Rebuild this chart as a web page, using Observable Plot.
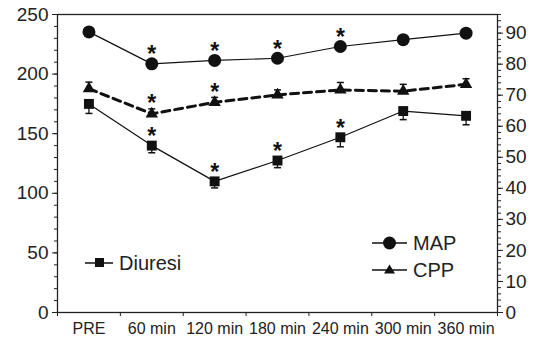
<!DOCTYPE html>
<html>
<head>
<meta charset="utf-8">
<script src="https://cdn.jsdelivr.net/npm/d3@7"></script>
<script src="https://cdn.jsdelivr.net/npm/@observablehq/plot@0.6"></script>
<style>
  body { margin: 0; background: white; }
  #wrap { position: relative; width: 535px; height: 339px; font-family: "Liberation Sans", Arial, sans-serif; color: #222; }
  .leg { position: absolute; display: flex; align-items: center; font-size: 20px; line-height: 1; }
  .leg svg { margin-right: 6px; }
</style>
</head>
<body>
<div id="wrap"></div>
<script>
// ---- data ----
const categories = ["PRE", "60 min", "120 min", "180 min", "240 min", "300 min", "360 min"];
const diuresi    = [175, 140, 110, 127.5, 147, 169, 165];
const diuresiErr = [8, 6, 5.5, 6, 8, 7.2, 7.5];
const map        = [90.4, 80.1, 81.2, 81.9, 85.7, 87.9, 90.0];
const cpp        = [72.1, 64.0, 67.7, 70.1, 71.7, 71.3, 73.5];
const cppErr     = [2.1, 1.6, 1.6, 1.6, 2.4, 2.2, 1.8];
const mapSig     = [false, true, true, true, true, false, false];
const cppSig     = [false, true, true, false, false, false, false];
const diuSig     = [false, true, true, true, true, false, false];
const leftTicks  = [0, 50, 100, 150, 200, 250];
const rightTicks = [0, 10, 20, 30, 40, 50, 60, 70, 80, 90];
const leftMax = 250, rightMax = 96;
const k = leftMax / rightMax; // right-axis units -> left-axis units

const rows = categories.map((c, i) => ({
  i, cat: c,
  diu: diuresi[i], diuLo: diuresi[i] - diuresiErr[i],
  map: map[i] * k,
  cpp: cpp[i] * k, cppHi: (cpp[i] + cppErr[i]) * k,
  mapSig: mapSig[i], cppSig: cppSig[i], diuSig: diuSig[i]
}));

const capSymbol = {
  draw(context, size) {
    const w = Math.sqrt(size / Math.PI);
    context.moveTo(-w, 0);
    context.lineTo(w, 0);
  }
};

const ink = "#111";
const bounds = d3.range(-0.5, categories.length, 1);

const chart = Plot.plot({
  width: 535,
  height: 339,
  marginLeft: 57,
  marginRight: 38,
  marginTop: 14,
  marginBottom: 27,
  style: { fontFamily: "Liberation Sans, Arial, sans-serif", color: "#222", background: "white" },
  x: { type: "linear", domain: [-0.5, categories.length - 0.5], label: null },
  y: { domain: [0, leftMax], label: null },
  marks: [
    Plot.frame({ stroke: "#222", strokeWidth: 1.3 }),
    // left axis
    Plot.axisY({ ticks: leftTicks, tickSize: 5, tickPadding: 4, fontSize: 19, stroke: "#222", label: null }),
    Plot.axisY({ ticks: d3.range(0, leftMax + 1, 10), tickSize: 3, tickFormat: () => "", stroke: "#222", label: null }),
    // right axis
    Plot.axisY({ anchor: "right", ticks: rightTicks.map(v => v * k), tickFormat: d => Math.round(d / k), tickSize: 5, tickPadding: 3, fontSize: 19, stroke: "#222", label: null }),
    Plot.axisY({ anchor: "right", ticks: d3.range(0, rightMax + 1, 2).map(v => v * k), tickSize: 3, tickFormat: () => "", stroke: "#222", label: null }),
    // x axis
    Plot.axisX({ ticks: bounds, tickSize: 4, tickFormat: () => "", stroke: "#222", label: null }),
    Plot.axisX({ ticks: categories.map((c, i) => i), tickSize: 0, tickPadding: 10, tickFormat: i => categories[i], fontSize: 16, label: null }),
    // error bars
    Plot.ruleX(rows, { x: "i", y1: "diuLo", y2: "diu", stroke: ink, strokeWidth: 1.3 }),
    Plot.dot(rows, { x: "i", y: "diuLo", symbol: capSymbol, r: 3.5, stroke: ink, strokeWidth: 1.5, fill: "none" }),
    Plot.ruleX(rows, { x: "i", y1: "cpp", y2: "cppHi", stroke: ink, strokeWidth: 1.3 }),
    Plot.dot(rows, { x: "i", y: "cppHi", symbol: capSymbol, r: 3.5, stroke: ink, strokeWidth: 1.5, fill: "none" }),
    // lines
    Plot.line(rows, { x: "i", y: "map", stroke: ink, strokeWidth: 1.2 }),
    Plot.line(rows, { x: "i", y: "cpp", stroke: ink, strokeWidth: 3, strokeDasharray: "8,5" }),
    Plot.line(rows, { x: "i", y: "diu", stroke: ink, strokeWidth: 1.2 }),
    // markers
    Plot.dot(rows, { x: "i", y: "map", symbol: "circle", r: 6.5, fill: ink }),
    Plot.dot(rows, { x: "i", y: "cpp", symbol: "triangle", r: 4.6, fill: ink }),
    Plot.dot(rows, { x: "i", y: "diu", symbol: "square", r: 5.6, fill: ink }),
    // significance asterisks
    Plot.text(rows.filter(d => d.mapSig), { x: "i", y: "map", text: () => "*", dy: -9, fontSize: 23, fontWeight: "bold", fill: ink }),
    Plot.text(rows.filter(d => d.cppSig), { x: "i", y: "cpp", text: () => "*", dy: -10, fontSize: 23, fontWeight: "bold", fill: ink }),
    Plot.text(rows.filter(d => d.diuSig), { x: "i", y: "diu", text: () => "*", dy: -9, fontSize: 23, fontWeight: "bold", fill: ink })
  ]
});

const wrap = document.getElementById("wrap");
wrap.appendChild(chart);

// legend (overlay)
const legendItems = [
  { label: "Diuresi", shape: "square", left: 85, top: 253 },
  { label: "MAP", shape: "circle", left: 372, top: 233 },
  { label: "CPP", shape: "triangle", left: 372, top: 260 }
];
function glyph(shape) {
  let m = "";
  if (shape === "square") m = '<rect x="10" y="5" width="9" height="9" fill="#111"/>';
  if (shape === "circle") m = '<circle cx="17.5" cy="10" r="6.5" fill="#111"/>';
  if (shape === "triangle") m = '<path d="M17.5,4.5 L23,13.5 L12,13.5 Z" fill="#111"/>';
  const w = shape === "square" ? 28 : 35;
  return `<svg width="${w}" height="20" viewBox="0 0 ${w} 20"><line x1="0" y1="10" x2="${w}" y2="10" stroke="#111" stroke-width="1.5"/>${m}</svg>`;
}
for (const it of legendItems) {
  const d = document.createElement("div");
  d.className = "leg";
  d.style.left = it.left + "px";
  d.style.top = it.top + "px";
  d.innerHTML = glyph(it.shape) + `<span>${it.label}</span>`;
  wrap.appendChild(d);
}
</script>
</body>
</html>
